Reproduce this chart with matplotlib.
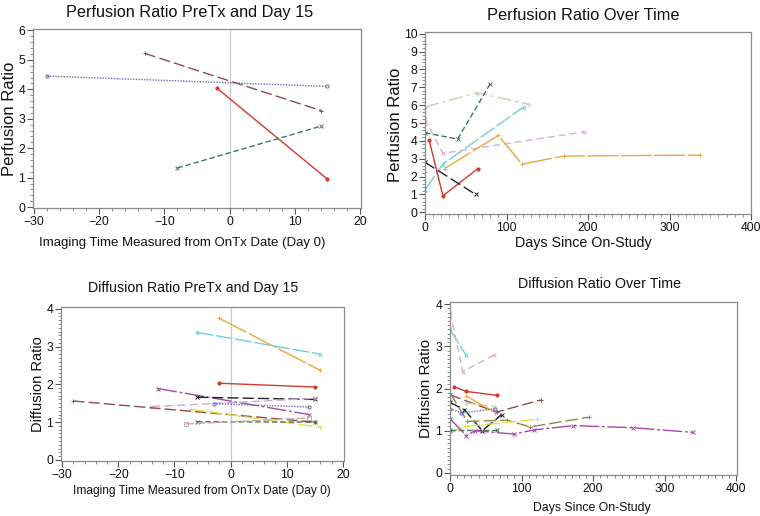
import matplotlib
matplotlib.use("Agg")
import matplotlib.pyplot as plt
from matplotlib.ticker import MultipleLocator, FuncFormatter

plt.rcParams['font.family'] = ['Liberation Sans', 'DejaVu Sans']

W, H = 760, 516

# ---------------- data ----------------
# Panel 1: Perfusion Ratio PreTx and Day 15 (x = days from OnTx)
p1_blue_x = [-28, 15];  p1_blue_y = [4.45, 4.1]
p1_brown_x = [-13, 14]; p1_brown_y = [5.22, 3.28]
p1_red_x = [-2, 15];    p1_red_y = [4.05, 0.95]
p1_green_x = [-8, 14];  p1_green_y = [1.33, 2.75]

# Panel 2: Perfusion Ratio Over Time (x = days since on-study)
p2_gray_x = [0];               p2_gray_y = [9.45]
p2_gray2_x = [0];              p2_gray2_y = [2.25]
p2_tan_x = [0, 64, 127];       p2_tan_y = [5.9, 6.7, 6.05]
p2_green_x = [0, 40, 80];      p2_green_y = [4.45, 4.1, 7.2]
p2_cyan_x = [0, 22, 121];      p2_cyan_y = [1.25, 2.7, 5.9]
p2_pink_x = [0, 22, 195];      p2_pink_y = [5.2, 3.3, 4.5]
p2_orange_x = [24, 90, 119, 171, 338]; p2_orange_y = [2.45, 4.3, 2.7, 3.15, 3.2]
p2_red_x = [5, 22, 65];        p2_red_y = [4.05, 0.92, 2.45]
p2_black_x = [0, 62];          p2_black_y = [2.8, 1.0]

# Panel 3: Diffusion Ratio PreTx and Day 15
p3_orange_x = [-2, 16];   p3_orange_y = [3.75, 2.37]
p3_cyan_x = [-6, 16];     p3_cyan_y = [3.38, 2.8]
p3_red_x = [-2, 15];      p3_red_y = [2.03, 1.93]
p3_purple_x = [-13, 14];  p3_purple_y = [1.89, 1.2]
p3_black_x = [-6, 15];    p3_black_y = [1.66, 1.6]
p3_lav_x = [-14, 15];     p3_lav_y = [1.41, 1.63]
p3_blue_x = [-3, 14];     p3_blue_y = [1.49, 1.4]
p3_brown_x = [-28, 15];   p3_brown_y = [1.56, 1.0]
p3_yellow_x = [-7, 16];   p3_yellow_y = [1.34, 0.86]
p3_green_x = [-6, 15];    p3_green_y = [1.01, 1.0]
p3_rose_x = [-8, 14];     p3_rose_y = [0.95, 1.11]

# Panel 4: Diffusion Ratio Over Time
p4_cyan_x = [0, 22];            p4_cyan_y = [3.4, 2.8]
p4_pink_x = [0, 18, 62];        p4_pink_y = [3.8, 2.4, 2.8]
p4_red_x = [6, 23, 65];         p4_red_y = [2.04, 1.93, 1.84]
p4_brown_x = [0, 65, 127];      p4_brown_y = [1.85, 1.44, 1.73]
p4_orange_x = [23, 63];         p4_orange_y = [1.82, 1.43]
p4_tan_x = [23, 63];            p4_tan_y = [1.66, 1.57]
p4_black_x = [0, 20, 45, 72];   p4_black_y = [1.67, 1.5, 1.0, 1.38]
p4_olive_x = [0, 24, 80, 112, 194]; p4_olive_y = [1.9, 1.22, 1.25, 1.09, 1.32]
p4_yellow_x = [0, 21, 121];     p4_yellow_y = [0.95, 1.1, 1.27]
p4_green_x = [0, 65];           p4_green_y = [1.02, 1.02]
p4_blue_x = [0, 16, 63];        p4_blue_y = [1.52, 1.42, 1.52]
p4_purple_x = [0, 23, 35, 89, 118, 172, 256, 339]
p4_purple_y = [1.28, 0.88, 1.0, 0.92, 1.02, 1.12, 1.07, 0.96]

# ---------------- styles ----------------
C = dict(red='#d23a2e', blue='#6a6ab8', brown='#8e4a4a', green='#3f7a52',
         cyan='#6fcfd6', orange='#e9a93a', black='#202020', pink='#d8acd8',
         tan='#d6c6b2', purple='#a848a8', yellow='#e8de38', olive='#8a8a4a',
         lav='#c8a8d8', rose='#c8a8a8', gray='#a0a0a0')
LS = dict(red='-', blue=(0, (1, 1)), brown=(0, (8, 3)), green=(0, (4, 2)),
          cyan=(0, (12, 2)), orange=(0, (22, 2)), black=(0, (8, 3)),
          pink=(0, (5, 3)), tan=(0, (10, 3, 2, 3)), purple=(0, (14, 2, 2, 2)),
          yellow=(0, (10, 3)), olive=(0, (9, 3)), lav=(0, (6, 3)),
          rose=(0, (6, 2)), gray='-')
MK = dict(red='o', blue='o', brown='+', green='x', cyan='^', orange='+',
          black='x', pink='x', tan='^', purple='x', yellow='+', olive='+',
          lav='x', rose='s', gray='+')


def px(x0, y0, x1, y1):
    return [x0 / W, 1 - y1 / H, (x1 - x0) / W, (y1 - y0) / H]


def draw(ax, key, x, y):
    mfc = C[key] if key == 'red' else 'none'
    ax.plot(x, y, color=C[key], linestyle=LS[key], linewidth=1.0,
            marker=MK[key], markersize=2.3, markerfacecolor=mfc,
            markeredgewidth=0.7)


def minus_fmt(v, p):
    return ('\u2212' if v < 0 else '') + '%d' % abs(v)


def style(ax, xlim, ylim, xmaj, ymaj, xmin, ymin):
    ax.set_xlim(*xlim)
    ax.set_ylim(*ylim)
    ax.xaxis.set_major_locator(MultipleLocator(xmaj))
    ax.yaxis.set_major_locator(MultipleLocator(ymaj))
    ax.xaxis.set_minor_locator(MultipleLocator(xmin))
    ax.yaxis.set_minor_locator(MultipleLocator(ymin))
    ax.xaxis.set_major_formatter(FuncFormatter(minus_fmt))
    for s in ax.spines.values():
        s.set_color('#8c8c8c')
        s.set_linewidth(0.9)
    ax.tick_params(which='major', length=4, width=0.8, color='#555555',
                   labelsize=8.8, pad=1.5, labelcolor='#111111')
    ax.tick_params(which='minor', length=2, width=0.6, color='#777777')
    ax.tick_params(top=False, right=False)


fig = plt.figure(figsize=(W / 100, H / 100), dpi=100)

# Panel 1
ax1 = fig.add_axes(px(33, 29, 361, 208))
style(ax1, (-30.15, 20.15), (-0.03, 6.05), 10, 1, 2, 0.2)
ax1.axvline(0, color='#c8c8c8', linewidth=0.9, zorder=0)
draw(ax1, 'blue', p1_blue_x, p1_blue_y)
draw(ax1, 'brown', p1_brown_x, p1_brown_y)
draw(ax1, 'red', p1_red_x, p1_red_y)
draw(ax1, 'green', p1_green_x, p1_green_y)

# Panel 2
ax2 = fig.add_axes(px(425, 32, 751, 214))
style(ax2, (0, 400), (-0.1, 10.1), 100, 1, 10, 0.2)
draw(ax2, 'gray', p2_gray_x, p2_gray_y)
draw(ax2, 'gray', p2_gray2_x, p2_gray2_y)
draw(ax2, 'tan', p2_tan_x, p2_tan_y)
draw(ax2, 'green', p2_green_x, p2_green_y)
draw(ax2, 'cyan', p2_cyan_x, p2_cyan_y)
draw(ax2, 'pink', p2_pink_x, p2_pink_y)
draw(ax2, 'orange', p2_orange_x, p2_orange_y)
draw(ax2, 'red', p2_red_x, p2_red_y)
draw(ax2, 'black', p2_black_x, p2_black_y)

# Panel 3
ax3 = fig.add_axes(px(61, 307, 344, 461))
style(ax3, (-30.2, 20.2), (-0.03, 4.05), 10, 1, 2, 0.1)
ax3.axvline(0, color='#c8c8c8', linewidth=0.9, zorder=0)
for k, x, y in [('orange', p3_orange_x, p3_orange_y), ('cyan', p3_cyan_x, p3_cyan_y),
                ('red', p3_red_x, p3_red_y), ('purple', p3_purple_x, p3_purple_y),
                ('black', p3_black_x, p3_black_y), ('lav', p3_lav_x, p3_lav_y),
                ('blue', p3_blue_x, p3_blue_y), ('brown', p3_brown_x, p3_brown_y),
                ('yellow', p3_yellow_x, p3_yellow_y), ('green', p3_green_x, p3_green_y),
                ('rose', p3_rose_x, p3_rose_y)]:
    draw(ax3, k, x, y)

# Panel 4
ax4 = fig.add_axes(px(450, 302, 737, 475))
style(ax4, (0, 401), (-0.05, 4.05), 100, 1, 10, 0.1)
for k, x, y in [('cyan', p4_cyan_x, p4_cyan_y), ('pink', p4_pink_x, p4_pink_y),
                ('red', p4_red_x, p4_red_y), ('brown', p4_brown_x, p4_brown_y),
                ('orange', p4_orange_x, p4_orange_y), ('tan', p4_tan_x, p4_tan_y),
                ('black', p4_black_x, p4_black_y), ('olive', p4_olive_x, p4_olive_y),
                ('yellow', p4_yellow_x, p4_yellow_y), ('green', p4_green_x, p4_green_y),
                ('blue', p4_blue_x, p4_blue_y), ('purple', p4_purple_x, p4_purple_y)]:
    draw(ax4, k, x, y)


# Titles and labels (positioned in pixels)
def ftext(x, y, s, size, rot=0):
    fig.text(x / W, 1 - y / H, s, ha='center', va='center', fontsize=size,
             rotation=rot, color='#111111')


ftext(190, 12, 'Perfusion Ratio PreTx and Day 15', 11.7)
ftext(583, 16, 'Perfusion Ratio Over Time', 11.8)
ftext(193, 288, 'Diffusion Ratio PreTx and Day 15', 10.2)
ftext(600, 284, 'Diffusion Ratio Over Time', 10.3)

ftext(182, 243, 'Imaging Time Measured from OnTx Date (Day 0)', 9.5)
ftext(583, 243, 'Days Since On-Study', 10.3)
ftext(202, 491, 'Imaging Time Measured from OnTx Date (Day 0)', 8.6)
ftext(592, 508, 'Days Since On-Study', 8.8)

ftext(10, 119, 'Perfusion Ratio', 12, 90)
ftext(396, 125, 'Perfusion Ratio', 12, 90)
ftext(38, 384, 'Diffusion Ratio', 10.5, 90)
ftext(426, 389, 'Diffusion Ratio', 11, 90)

fig.savefig('out.png', dpi=100)
